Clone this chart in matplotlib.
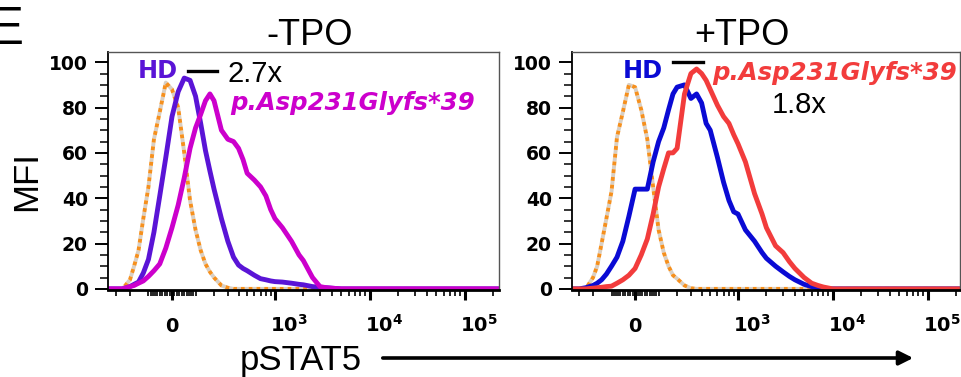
import numpy as np
import matplotlib
matplotlib.use("Agg")
import matplotlib.pyplot as plt
from matplotlib.lines import Line2D
from matplotlib.patches import FancyArrowPatch
from matplotlib.transforms import ScaledTranslation

# pSTAT5 intensity bins (logicle-like axis)
intensity = [-350, -300, -250, -200, -175, -150, -125, -100, -75, -50, -25, 0,
             25, 50, 75, 100, 125, 150, 175, 200, 250, 300, 350, 400, 450, 500,
             600, 700, 800, 900, 1000, 1200, 1500, 1800, 2000, 2500, 3000, 3500,
             4000, 5000, 6000, 7000, 8000, 10000, 50000, 230000]

# -TPO panel
iso_minus = [0, 0, 0, 4, 10, 17, 31, 45, 66, 78, 91, 88,
             80, 60, 39, 26, 17, 11, 7.5, 5, 1.5, 0.5, 0, 0, 0, 0,
             0, 0, 0, 0, 0, 0, 0, 0, 0, 0, 0, 0,
             0, 0, 0, 0, 0, 0, 0, 0]
hd_minus = [0, 0, 0, 1, 2, 3, 7, 13, 25, 41, 58, 76,
            87, 93, 92, 85, 73, 61, 52, 44, 31, 21, 14, 10.5, 9, 8,
            6, 4.5, 4, 3.5, 3.2, 3, 2.5, 2, 1.8, 1, 0.7, 0.5,
            0.3, 0, 0, 0, 0, 0, 0, 0]
mut_minus = [0, 0, 0, 1, 1.5, 2.5, 3.5, 5.5, 8, 11, 18, 27,
             37, 49, 62, 71, 77, 83, 86, 83, 70, 66, 65, 62, 57, 51,
             48, 45, 41, 35, 31, 27, 21, 15, 12.5, 5, 1, 0.5,
             0.3, 0, 0, 0, 0, 0, 0, 0]

# +TPO panel
iso_plus = [0, 0, 0, 5, 10, 20, 31, 43, 67, 78, 90, 89,
            79, 66, 45, 26, 16, 10, 6, 4.5, 1.5, 0.3, 0, 0, 0, 0,
            0, 0, 0, 0, 0, 0, 0, 0, 0, 0, 0, 0,
            0, 0, 0, 0, 0, 0, 0, 0]
hd_plus = [0, 0, 0.5, 1.5, 2.5, 4, 6.5, 10, 14, 21, 32, 44,
           44, 44, 56, 65, 71, 79, 86, 89, 90, 84, 86, 82, 73, 70,
           58, 47, 39, 34, 33, 26, 21, 16, 13.5, 10, 7.5, 5.5,
           4, 2, 1, 0.3, 0, 0, 0, 0]
mut_plus = [0, 0, 0, 0.3, 0.5, 0.7, 1, 1.2, 2.5, 4, 6, 9,
            15, 22, 33, 45, 53, 60, 60, 62, 86, 95, 97, 95, 92, 88,
            81, 76, 73, 68, 64, 56, 42, 33, 27, 19, 16, 12,
            9, 5, 2.5, 1.5, 0.8, 0, 0, 0]

major_ticks = [0, 1e3, 1e4, 1e5]
major_labels = [r"$\mathbf{0}$", r"$\mathbf{10^{3}}$", r"$\mathbf{10^{4}}$", r"$\mathbf{10^{5}}$"]

PURPLE = "#5a14d6"
MAGENTA = "#cc00cc"
BLUE = "#0a0ad4"
RED = "#f23c3c"
ORANGE = "#f5901e"

W, H = 962, 377


def fwd(x):
    return np.arcsinh(np.asarray(x, dtype=float) / 166.0)


def inv(u):
    return 166.0 * np.sinh(np.asarray(u, dtype=float))


def fx(px):
    return px / W


def fy(py):
    return 1 - py / H


def style_axes(ax, xlim):
    ax.set_xscale("function", functions=(fwd, inv))
    ax.set_xlim(*xlim)
    ax.set_ylim(-0.5, 104.5)

    minor = [-300, -200] + [v for v in range(-100, 101, 10) if v != 0]
    minor += [v * 100 for v in range(2, 10)] + [v * 1000 for v in range(2, 10)]
    minor += [v * 10000 for v in range(2, 10)] + [200000]
    ax.set_xticks(major_ticks)
    ax.set_xticklabels(major_labels, fontsize=14)
    ax.set_xticks(minor, minor=True)
    ax.tick_params(axis="x", which="major", length=7, width=2.2, pad=23, direction="out")
    ax.tick_params(axis="x", which="minor", length=4, width=1.2, direction="out")
    shift = ScaledTranslation(-5 / 100, 0, fig.dpi_scale_trans)
    for i, lab in enumerate(ax.get_xticklabels()):
        lab.set_va("baseline")
        if i > 0:
            lab.set_ha("left")
            lab.set_transform(lab.get_transform() + shift)

    ax.set_yticks([0, 20, 40, 60, 80, 100])
    ax.set_yticklabels(["0", "20", "40", "60", "80", "100"], fontsize=13.5, fontweight="bold")
    ax.set_yticks([v for v in range(5, 100, 5) if v % 20 != 0], minor=True)
    ax.tick_params(axis="y", which="major", length=9.5, width=1.4, pad=5, direction="out")
    ax.tick_params(axis="y", which="minor", length=5.5, width=1.1, direction="out")

    for side in ["top", "right"]:
        ax.spines[side].set_color("#555555")
        ax.spines[side].set_linewidth(1.0)
    ax.spines["left"].set_linewidth(1.3)
    ax.spines["bottom"].set_linewidth(2.0)


plt.rcParams["font.family"] = ["DejaVu Sans"]

fig = plt.figure(figsize=(W / 100, H / 100), dpi=100)
ax_l = fig.add_axes([fx(108), 87 / H, 391 / W, 238 / H])
ax_r = fig.add_axes([fx(572), 87 / H, 388 / W, 238 / H])

style_axes(ax_l, (-374, 230000))
style_axes(ax_r, (-365, 219000))

dot = dict(lw=2.8, linestyle=(0, (1.0, 1.0)), gapcolor="#d8cfc4")
ax_l.plot(intensity, iso_minus, color=ORANGE, **dot)
ax_l.plot(intensity, hd_minus, color=PURPLE, lw=3.5)
ax_l.plot(intensity, mut_minus, color=MAGENTA, lw=3.5)

ax_r.plot(intensity, iso_plus, color=ORANGE, **dot)
ax_r.plot(intensity, hd_plus, color=BLUE, lw=3.5)
ax_r.plot(intensity, mut_plus, color=RED, lw=3.5)

sans = "Liberation Sans"
fig.text(fx(-13), fy(44), "E", fontsize=39, family=sans, ha="left", va="baseline")
fig.text(fx(310), fy(45), "-TPO", fontsize=26, family=sans, ha="center", va="baseline")
fig.text(fx(742), fy(45), "+TPO", fontsize=26, family=sans, ha="center", va="baseline")
fig.text(fx(27), fy(181), "MFI", fontsize=25, family=sans, rotation=90, ha="center", va="center")
fig.text(fx(240), fy(370), "pSTAT5", fontsize=25, family=sans, ha="left", va="baseline")
fig.add_artist(FancyArrowPatch((fx(380), fy(358)), (fx(916), fy(358)), transform=fig.transFigure,
                               arrowstyle="-|>,head_length=0.6,head_width=0.3",
                               mutation_scale=14, lw=2.6, color="black"))

# -TPO annotations
fig.text(fx(138), fy(78), "HD", color=PURPLE, fontsize=17.3, fontweight="bold", va="baseline")
fig.add_artist(Line2D([fx(188), fx(217)], [fy(71), fy(71)], lw=2.4, color="black",
                      transform=fig.transFigure))
fig.text(fx(228), fy(82), "2.7x", fontsize=21, family=sans, va="baseline")
fig.text(fx(230), fy(110), "p.Asp231Glyfs*39", color=MAGENTA, fontsize=17.6,
         fontweight="bold", style="italic", va="baseline")

# +TPO annotations
fig.text(fx(623), fy(78), "HD", color=BLUE, fontsize=17.3, fontweight="bold", va="baseline")
fig.add_artist(Line2D([fx(673), fx(703)], [fy(62), fy(62)], lw=2.4, color="black",
                      transform=fig.transFigure))
fig.text(fx(712), fy(80), "p.Asp231Glyfs*39", color=RED, fontsize=17.6,
         fontweight="bold", style="italic", va="baseline")
fig.text(fx(772), fy(113), "1.8x", fontsize=21, family=sans, va="baseline")

fig.savefig("out.png", dpi=100)
plt.close(fig)
